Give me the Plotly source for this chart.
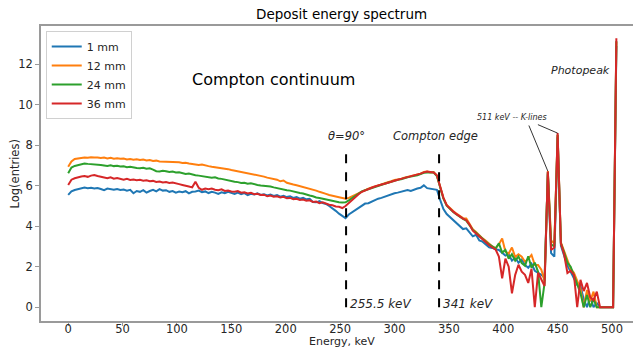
import plotly.graph_objects as go

# Energy bins (keV), 3 keV wide
energy = list(range(0, 505, 3))

# Log(entries) per bin for each crystal thickness
log_1mm = [
    5.55, 5.72, 5.79, 5.84, 5.88, 5.91, 5.88, 5.90, 5.86, 5.89,
    5.84, 5.78, 5.86, 5.82, 5.80, 5.84, 5.79, 5.81, 5.76, 5.80,
    5.63, 5.74, 5.70, 5.78, 5.66, 5.74, 5.80, 5.72, 5.83, 5.76,
    5.78, 5.70, 5.74, 5.66, 5.71, 5.68, 5.73, 5.62, 5.70, 5.72,
    5.76, 5.68, 5.72, 5.64, 5.70, 5.66, 5.60, 5.68, 5.63, 5.70,
    5.63, 5.60, 5.66, 5.58, 5.64, 5.54, 5.60, 5.57, 5.62, 5.55,
    5.58, 5.52, 5.56, 5.50, 5.54, 5.46, 5.50, 5.44, 5.48, 5.40,
    5.44, 5.36, 5.40, 5.33, 5.35, 5.20, 5.18, 5.24, 5.14, 5.10,
    5.00, 4.90, 4.76, 4.62, 4.50, 4.40, 4.58, 4.68, 4.80, 4.92,
    5.02, 5.12, 5.14, 5.22, 5.30, 5.36, 5.40, 5.46, 5.52, 5.58,
    5.63, 5.66, 5.70, 5.76, 5.79, 5.74, 5.82, 5.86, 5.90, 6.02,
    5.88, 5.86, 5.84, 5.80, 5.30, 4.85, 4.60, 4.45, 4.30, 4.12,
    4.02, 3.86, 3.90, 3.72, 3.50, 3.58, 3.30, 3.24, 3.08, 2.96,
    2.93, 2.86, 2.83, 2.70, 2.55, 2.62, 2.30, 2.45, 2.20, 2.35,
    2.09, 1.95, 2.15, 1.80, 1.70, 1.60, 1.45, 6.60, 2.67, 2.50,
    8.40, 3.05, 2.55, 2.05, 1.75, 1.40, 1.10, 1.05, 0.40, 0.00,
    0.50, 0.00, 0.20, 0.00, 0.00, 0.00, 0.00, 0.00, 12.90,
]

log_12mm = [
    6.94, 7.20, 7.32, 7.35, 7.38, 7.40, 7.38, 7.41, 7.39, 7.40,
    7.37, 7.39, 7.35, 7.38, 7.34, 7.36, 7.33, 7.35, 7.30, 7.32,
    7.29, 7.31, 7.27, 7.29, 7.25, 7.27, 7.22, 7.24, 7.20, 7.19,
    7.21, 7.17, 7.19, 7.15, 7.16, 7.12, 7.14, 7.10, 7.07, 7.05,
    7.03, 7.05, 7.00, 6.97, 6.94, 6.92, 6.90, 6.88, 6.84, 6.82,
    6.78, 6.75, 6.72, 6.68, 6.66, 6.62, 6.60, 6.55, 6.53, 6.48,
    6.45, 6.40, 6.37, 6.34, 6.30, 6.22, 6.26, 6.15, 6.12, 6.06,
    6.02, 5.98, 5.94, 5.90, 5.85, 5.80, 5.76, 5.70, 5.66, 5.60,
    5.54, 5.50, 5.46, 5.42, 5.38, 5.36, 5.40, 5.48, 5.58, 5.66,
    5.74, 5.80, 5.86, 5.92, 5.96, 6.02, 6.06, 6.12, 6.16, 6.22,
    6.28, 6.30, 6.34, 6.40, 6.44, 6.46, 6.50, 6.55, 6.60, 6.68,
    6.70, 6.66, 6.68, 6.50, 5.95, 5.40, 5.05, 4.88, 4.75, 4.62,
    4.50, 4.40, 4.38, 4.10, 3.85, 3.72, 3.55, 3.40, 3.28, 3.12,
    3.00, 2.92, 3.10, 3.40, 2.75, 2.65, 2.95, 2.48, 2.62, 2.50,
    2.25, 2.40, 2.58, 2.10, 2.09, 1.85, 1.30, 6.72, 3.30, 3.15,
    8.50, 3.20, 2.75, 2.30, 1.90, 1.70, 1.25, 0.90, 0.00, 0.85,
    0.30, 0.77, 0.00, 0.00, 0.00, 0.00, 0.00, 0.00, 13.10,
]

log_24mm = [
    6.62, 6.90, 6.98, 7.03, 7.06, 7.10, 7.08, 7.07, 7.04, 7.06,
    7.02, 7.00, 6.98, 7.01, 6.97, 6.99, 6.95, 6.96, 6.92, 6.94,
    6.90, 6.88, 6.86, 6.89, 6.84, 6.86, 6.80, 6.72, 6.70, 6.74,
    6.72, 6.68, 6.70, 6.66, 6.67, 6.62, 6.58, 6.60, 6.55, 6.52,
    6.50, 6.48, 6.46, 6.44, 6.40, 6.42, 6.36, 6.34, 6.30, 6.27,
    6.22, 6.20, 6.18, 6.14, 6.15, 6.10, 6.12, 6.06, 6.04, 6.01,
    6.00, 5.97, 5.96, 5.92, 5.88, 5.86, 5.82, 5.78, 5.76, 5.72,
    5.66, 5.64, 5.62, 5.56, 5.52, 5.48, 5.42, 5.40, 5.36, 5.32,
    5.28, 5.24, 5.21, 5.19, 5.17, 5.18, 5.28, 5.40, 5.52, 5.62,
    5.72, 5.78, 5.84, 5.90, 5.96, 6.00, 6.06, 6.10, 6.15, 6.20,
    6.26, 6.29, 6.32, 6.38, 6.42, 6.45, 6.48, 6.52, 6.58, 6.64,
    6.66, 6.64, 6.65, 6.48, 5.92, 5.36, 5.02, 4.84, 4.70, 4.58,
    4.46, 4.36, 4.28, 4.06, 3.82, 3.68, 3.52, 3.38, 3.24, 3.10,
    2.98, 2.90, 3.16, 2.70, 2.83, 2.40, 2.62, 2.30, 2.50, 2.18,
    2.05, 2.52, 1.95, 2.20, 1.75, 0.00, 1.20, 6.68, 3.10, 3.00,
    8.52, 3.15, 2.70, 2.20, 2.00, 1.55, 1.10, 0.70, 0.00, 0.60,
    0.00, 0.40, 0.00, 0.00, 0.00, 0.00, 0.00, 0.00, 13.15,
]

log_36mm = [
    6.04, 6.30, 6.37, 6.42, 6.46, 6.48, 6.44, 6.50, 6.53, 6.48,
    6.45, 6.40, 6.37, 6.42, 6.35, 6.38, 6.33, 6.30, 6.34, 6.29,
    6.31, 6.27, 6.29, 6.25, 6.27, 6.22, 6.24, 6.19, 6.21, 6.16,
    6.18, 6.14, 6.16, 6.10, 6.08, 6.04, 5.98, 5.96, 5.92, 6.20,
    5.90, 5.80, 5.86, 5.83, 5.86, 5.80, 5.78, 5.82, 5.74, 5.76,
    5.72, 5.70, 5.74, 5.66, 5.68, 5.62, 5.65, 5.58, 5.60, 5.54,
    5.56, 5.48, 5.52, 5.46, 5.48, 5.42, 5.45, 5.38, 5.40, 5.34,
    5.36, 5.30, 5.32, 5.26, 5.28, 5.20, 5.22, 5.14, 5.18, 5.10,
    5.06, 5.04, 4.98, 4.96, 4.90, 5.00, 5.15, 5.30, 5.45, 5.58,
    5.70, 5.78, 5.84, 5.90, 5.96, 6.02, 6.06, 6.10, 6.16, 6.22,
    6.26, 6.30, 6.34, 6.38, 6.44, 6.46, 6.50, 6.56, 6.60, 6.66,
    6.70, 6.68, 6.66, 6.52, 5.96, 5.40, 5.04, 4.86, 4.72, 4.60,
    4.48, 4.38, 4.30, 4.08, 3.78, 3.66, 3.50, 3.36, 3.20, 3.06,
    2.95, 2.85, 2.50, 1.43, 2.40, 2.00, 0.69, 1.60, 2.10, 1.76,
    1.60, 1.20, 1.90, 0.00, 1.70, 1.40, 1.05, 6.70, 2.83, 2.95,
    8.60, 3.16, 2.60, 1.69, 1.80, 1.60, 0.00, 1.35, 0.80, 1.20,
    0.50, 0.35, 0.77, 0.00, 0.00, 0.00, 0.00, 0.00, 13.28,
]

series_names = ["1 mm", "12 mm", "24 mm", "36 mm"]
series_values = [log_1mm, log_12mm, log_24mm, log_36mm]
series_colors = ["#1f77b4", "#ff7f0e", "#2ca02c", "#d62728"]

# Reference energies marked with dashed lines
marker_energies = [255.5, 341]
marker_labels = ["255.5 keV", "341 keV"]
marker_top = 7.9

x_ticks = [0, 50, 100, 150, 200, 250, 300, 350, 400, 450, 500]
y_ticks = [0, 2, 4, 6, 8, 10, 12]

FONT = "DejaVu Sans"
TEXT = "#262626"
SPINE = "#9a9a9a"

fig = go.Figure()
for name, vals, col in zip(series_names, series_values, series_colors):
    fig.add_trace(go.Scatter(
        x=energy, y=vals, mode="lines", name=name,
        line=dict(color=col, width=2),
    ))

for e, lab in zip(marker_energies, marker_labels):
    fig.add_shape(type="line", xref="x", yref="y", x0=e, x1=e, y0=0, y1=marker_top,
                  line=dict(color="black", width=2, dash="dash"))
    fig.add_annotation(x=e + 1.5, y=0.15, xref="x", yref="y", text=f"<i>{lab}</i>",
                       showarrow=False, xanchor="left", yanchor="middle",
                       font=dict(family=FONT, size=12, color=TEXT))

# Text labels on the spectrum
fig.add_annotation(x=189, y=11.27, text="Compton continuum", showarrow=False,
                   xanchor="center", font=dict(family=FONT, size=16, color="black"))
fig.add_annotation(x=256, y=8.45, text="<i>θ=90°</i>", showarrow=False,
                   xanchor="center", font=dict(family=FONT, size=11.5, color=TEXT))
fig.add_annotation(x=338, y=8.45, text="<i>Compton edge</i>", showarrow=False,
                   xanchor="center", font=dict(family=FONT, size=11.5, color=TEXT))
fig.add_annotation(x=471, y=11.68, text="<i>Photopeak</i>", showarrow=False,
                   xanchor="center", font=dict(family=FONT, size=11, color=TEXT))
fig.add_annotation(x=408, y=9.35, text="<i>511 keV -- K-lines</i>", showarrow=False,
                   xanchor="center", font=dict(family=FONT, size=8, color=TEXT))

# Leader lines from the K-line label to the two escape peaks
k_peak_bins = [441, 450]
k_tails = [(423, 9.05), (430.5, 9.05)]
for e, (tx, ty) in zip(k_peak_bins, k_tails):
    idx = energy.index(e)
    peak_val = max(v[idx] for v in series_values)
    fig.add_annotation(x=e, y=peak_val, ax=tx, ay=ty, axref="x", ayref="y",
                       xref="x", yref="y", text="", showarrow=True,
                       arrowhead=0, arrowwidth=0.8, arrowcolor="black")

# Axis titles
fig.add_annotation(x=0.508, y=-0.069, xref="paper", yref="paper", text="Energy, keV",
                   showarrow=False, xanchor="center", yanchor="middle",
                   font=dict(family=FONT, size=11, color=TEXT))
fig.add_annotation(x=-0.044, y=0.5, xref="paper", yref="paper", text="Log(entries)",
                   showarrow=False, textangle=-90, xanchor="center", yanchor="middle",
                   font=dict(family=FONT, size=11.5, color=TEXT))
# Title
fig.add_annotation(x=0.508, y=1.0, xref="paper", yref="paper", text="Deposit energy spectrum",
                   showarrow=False, xanchor="center", yanchor="bottom", yshift=2,
                   font=dict(family=FONT, size=13.5, color="black"))

fig.update_xaxes(range=[-25, 519.3], tickvals=x_ticks, ticks="outside", ticklen=3,
                 tickcolor=SPINE, showline=True, linecolor=SPINE, linewidth=1.5,
                 mirror=True, showgrid=False, zeroline=False, ticklabelstandoff=-7,
                 tickfont=dict(family=FONT, size=11.5, color=TEXT))
fig.update_yaxes(range=[-0.68, 13.89], tickvals=y_ticks, ticks="outside", ticklen=4,
                 tickcolor=SPINE, showline=True, linecolor=SPINE, linewidth=1.5,
                 mirror=False, showgrid=False, zeroline=False,
                 tickfont=dict(family=FONT, size=11.5, color=TEXT))

fig.update_layout(
    width=633, height=347, autosize=False,
    margin=dict(l=41, r=0, t=26, b=26),
    plot_bgcolor="white", paper_bgcolor="white",
    showlegend=True,
    legend=dict(x=0.008, y=0.983, xanchor="left", yanchor="top",
                bgcolor="rgba(255,255,255,0.9)", bordercolor="#d0d0d0", borderwidth=1,
                font=dict(family=FONT, size=11, color=TEXT), tracegroupgap=0,
                itemwidth=30),
)

fig.write_html("out.html")
